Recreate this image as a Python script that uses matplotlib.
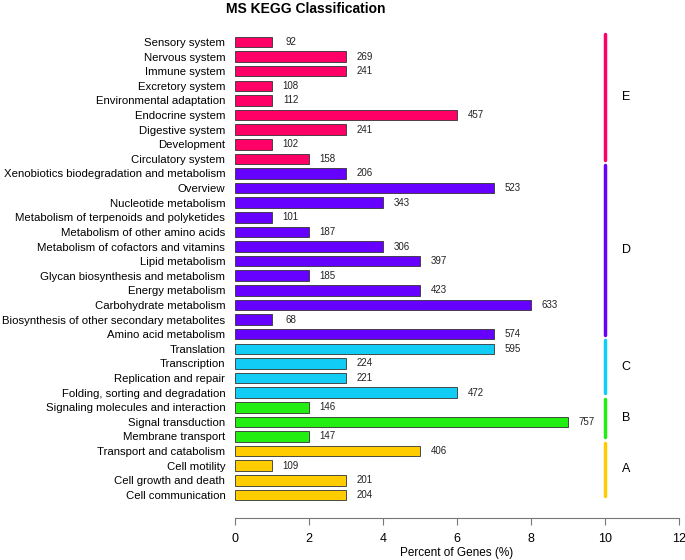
import numpy as np
import matplotlib.pyplot as plt

plt.rcParams['font.family'] = ['Liberation Sans', 'DejaVu Sans']

# categories listed bottom to top
categories = ['Cell communication', 'Cell growth and death', 'Cell motility',
              'Transport and catabolism',
              'Membrane transport', 'Signal transduction', 'Signaling molecules and interaction',
              'Folding, sorting and degradation', 'Replication and repair', 'Transcription',
              'Translation',
              'Amino acid metabolism', 'Biosynthesis of other secondary metabolites',
              'Carbohydrate metabolism', 'Energy metabolism',
              'Glycan biosynthesis and metabolism', 'Lipid metabolism',
              'Metabolism of cofactors and vitamins', 'Metabolism of other amino acids',
              'Metabolism of terpenoids and polyketides', 'Nucleotide metabolism',
              'Overview', 'Xenobiotics biodegradation and metabolism',
              'Circulatory system', 'Development', 'Digestive system', 'Endocrine system',
              'Environmental adaptation', 'Excretory system', 'Immune system',
              'Nervous system', 'Sensory system']
percents = [3, 3, 1, 5,
            2, 9, 2,
            6, 3, 3, 7,
            7, 1, 8, 5, 2, 5, 4, 2, 1, 4, 7, 3,
            2, 1, 3, 6, 1, 1, 3, 3, 1]
counts = [204, 201, 109, 406,
          147, 757, 146,
          472, 221, 224, 595,
          574, 68, 633, 423, 185, 397, 306, 187, 101, 343, 523, 206,
          158, 102, 241, 457, 112, 108, 241, 269, 92]
groups = ['A', 'B', 'C', 'D', 'E']
group_sizes = [4, 3, 4, 12, 9]
group_colors = ['#FFCC00', '#22EE11', '#11CCF5', '#6600FF', '#FF0066']

fig = plt.figure(figsize=(6.85, 5.6), dpi=100)
ax = fig.add_axes([235/685, 1-518/560, (679-235)/685, (518-30)/560])

y = np.arange(len(categories))
colors = []
for g, n in enumerate(group_sizes):
    colors += [group_colors[g]] * n

ax.barh(y, percents, height=0.72, color=colors, edgecolor='#333333', linewidth=0.6)
for yi, p, c in zip(y, percents, counts):
    ax.text(p + 0.5, yi, str(c), ha='center', va='center', fontsize=7, color='#222222')

# group lines and letters
start = 0
for g, n in enumerate(group_sizes):
    lo = start - 0.05
    hi = start + n - 1 + 0.58
    ax.plot([10, 10], [lo, hi], color=group_colors[g], lw=2.5, solid_capstyle='round')
    ax.text(10.57, (lo + hi) / 2, groups[g], ha='center', va='center', fontsize=9)
    start += n

ax.set_xlim(0, 12)
ax.set_ylim(-1.58, 31.82)
ax.set_yticks(y)
ax.set_yticklabels(categories, fontsize=8.2)
ax.tick_params(axis='y', length=0, pad=7)
ax.set_xticks(np.arange(0, 13, 2))
ax.tick_params(axis='x', length=5, color='#777777', labelsize=9, pad=6)
for s in ['top', 'right', 'left']:
    ax.spines[s].set_visible(False)
ax.spines['bottom'].set_color('#777777')
ax.set_xlabel('Percent of Genes (%)', fontsize=8.5, labelpad=1)

fig.text(306/685, 1-9/560, 'MS KEGG Classification', ha='center', va='center',
         fontsize=10, fontweight='bold')

fig.savefig('out.png', dpi=100)
